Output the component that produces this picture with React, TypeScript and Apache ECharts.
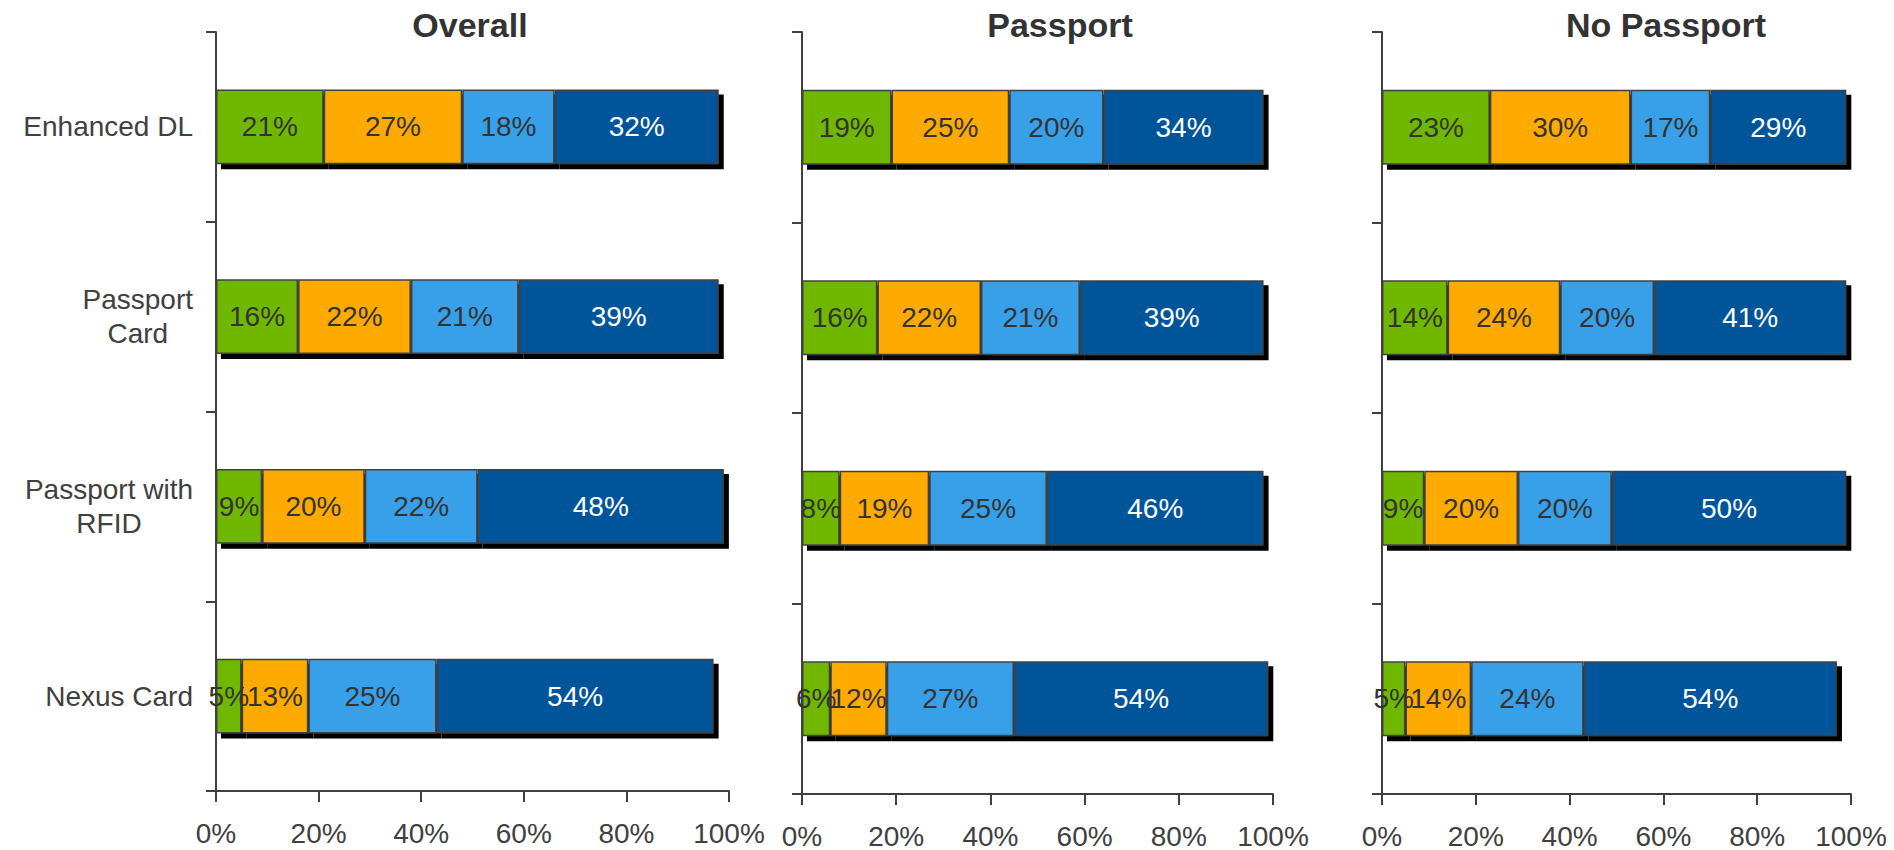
import React, { useEffect, useRef } from "react";
import * as echarts from "echarts";

const categories = ["Enhanced DL", "Passport Card", "Passport with RFID", "Nexus Card"];
const categoryLabels = ["Enhanced DL", "Passport\nCard", "Passport with\nRFID", "Nexus Card"];
const panelTitles = ["Overall", "Passport", "No Passport"];
const xTicks = [0, 20, 40, 60, 80, 100];

// segment order: green, orange, light blue, dark blue
const overallGreen = [21, 16, 9, 5];
const overallOrange = [27, 22, 20, 13];
const overallLight = [18, 21, 22, 25];
const overallDark = [32, 39, 48, 54];

const passportGreen = [19, 16, 8, 6];
const passportOrange = [25, 22, 19, 12];
const passportLight = [20, 21, 25, 27];
const passportDark = [34, 39, 46, 54];

const noPassportGreen = [23, 14, 9, 5];
const noPassportOrange = [30, 24, 20, 14];
const noPassportLight = [17, 20, 20, 24];
const noPassportDark = [29, 41, 50, 54];

const segmentNames = ["Segment 1", "Segment 2", "Segment 3", "Segment 4"];
const segmentColors = ["#70B800", "#FFAA00", "#38A0E8", "#00559A"];
const labelColors = ["#333333", "#333333", "#333333", "#ffffff"];

const panels = [
  [overallGreen, overallOrange, overallLight, overallDark],
  [passportGreen, passportOrange, passportLight, passportDark],
  [noPassportGreen, noPassportOrange, noPassportLight, noPassportDark],
];

const FONT = "Liberation Sans, Arial, sans-serif";
const AXIS = "#404040";

export default function App() {
  const ref = useRef<HTMLDivElement>(null);
  useEffect(() => {
    if (!ref.current) return;
    const chart = echarts.init(ref.current, undefined, { renderer: "svg" });

    const grids = [
      { left: 216, width: 513, top: 32, bottom: 59 },
      { left: 802, width: 471, top: 32, bottom: 56 },
      { left: 1382, width: 469, top: 32, bottom: 55 },
    ];
    const titleCenters = [465, 1055, 1661];

    const xAxis = grids.map((_, i) => ({
      type: "value",
      gridIndex: i,
      min: 0,
      max: 100,
      interval: 20,
      splitLine: { show: false },
      axisLine: { show: true, lineStyle: { color: AXIS, width: 2 } },
      axisTick: { show: true, length: 11, lineStyle: { color: AXIS, width: 2 } },
      axisLabel: {
        formatter: "{value}%",
        color: AXIS,
        fontSize: 28,
        fontFamily: FONT,
        margin: 28,
      },
      data: xTicks,
    }));

    const yAxis = grids.map((_, i) => ({
      type: "category",
      gridIndex: i,
      inverse: true,
      data: categories,
      axisLine: { show: true, lineStyle: { color: AXIS, width: 2 } },
      axisTick: { show: true, length: 10, lineStyle: { color: AXIS, width: 2 } },
      axisLabel: {
        show: i === 0,
        margin: 23,
        color: AXIS,
        fontSize: 28,
        fontFamily: FONT,
        lineHeight: 34,
        formatter: (v: string) => {
          const idx = categories.indexOf(v);
          return categoryLabels[idx]
            .split("\n")
            .map((line) => "{c|" + line + "}")
            .join("\n");
        },
        rich: {
          c: {
            align: "center",
            color: AXIS,
            fontSize: 28,
            fontFamily: FONT,
            lineHeight: 34,
          },
        },
      },
    }));

    const series: any[] = [];
    panels.forEach((panel, p) => {
      panel.forEach((values, s) => {
        series.push({
          type: "bar",
          name: segmentNames[s],
          xAxisIndex: p,
          yAxisIndex: p,
          stack: "panel" + p,
          barWidth: "39.5%",
          data: values,
          itemStyle: {
            color: segmentColors[s],
            borderColor: "#404040",
            borderWidth: 1.5,
            shadowColor: "#000000",
            shadowBlur: 0,
            shadowOffsetX: 5,
            shadowOffsetY: 5,
          },
          label: {
            show: true,
            position: "inside",
            formatter: "{c}%",
            color: labelColors[s],
            fontSize: 28,
            fontFamily: FONT,
          },
        });
      });
    });

    chart.setOption({
      animation: false,
      backgroundColor: "#ffffff",
      title: panelTitles.map((t, i) => ({
        text: t,
        left: titleCenters[i],
        top: 3,
        textAlign: "center",
        textStyle: {
          fontSize: 34,
          fontWeight: "bold",
          color: "#333333",
          fontFamily: FONT,
        },
      })),
      grid: grids,
      xAxis,
      yAxis,
      series,
    });

    return () => chart.dispose();
  }, []);

  return (
    <div
      ref={ref}
      style={{ position: "fixed", left: 0, top: 0, width: 1894, height: 850 }}
    />
  );
}
